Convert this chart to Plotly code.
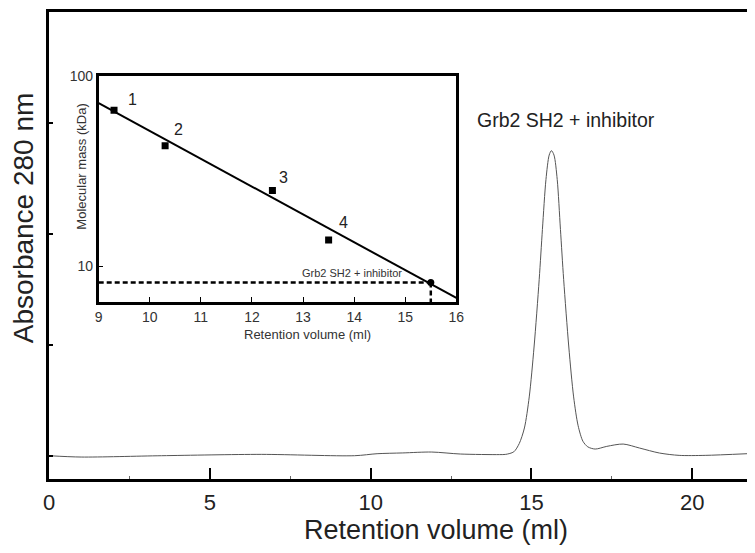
import math
import plotly.graph_objects as go

# chromatogram trace (absorbance at 280 nm, arbitrary units)
volume_ml = [0.0, 1.0, 3.5, 6.6, 9.5, 10.2, 11.0, 11.9, 12.8, 14.0, 14.2, 14.45, 14.62, 14.78,
             14.93, 15.08, 15.24, 15.34, 15.45, 15.55, 15.62, 15.70, 15.80, 15.90, 16.0, 16.16,
             16.31, 16.45, 16.6, 16.75, 16.98, 17.34, 17.85, 18.36, 18.98, 19.59, 20.4, 21.7]
absorbance = [0.0, -0.012, 0.0, 0.012, 0.0, 0.018, 0.025, 0.033, 0.015, 0.01, 0.012, 0.035, 0.11, 0.25,
              0.53, 0.98, 1.59, 2.04, 2.49, 2.71, 2.75, 2.71, 2.49, 2.04, 1.59, 0.98,
              0.53, 0.27, 0.13, 0.08, 0.06, 0.084, 0.105, 0.069, 0.024, 0.003, 0.003, 0.018]

# calibration standards for the inset
std_labels = ["1", "2", "3", "4"]
std_volume = [9.3, 10.3, 12.4, 13.5]
std_mass = [66, 43, 25, 13.7]

# calibration line end points
fit_volume = [9, 16]
fit_mass = [72, 6.8]

# the complex
sample_label = "Grb2 SH2 + inhibitor"
sample_volume = 15.5
sample_mass = 8.2

FONT = "Liberation Sans, Arial, sans-serif"

fig = go.Figure()

fig.add_trace(go.Scatter(x=volume_ml, y=absorbance, mode="lines",
                         line=dict(color="#555555", width=1, shape="spline", smoothing=0.8),
                         xaxis="x", yaxis="y", hoverinfo="skip"))

# inset: calibration line, dashed guides, standards, sample
fig.add_trace(go.Scatter(x=fit_volume, y=fit_mass, mode="lines",
                         line=dict(color="black", width=2), xaxis="x2", yaxis="y2"))
fig.add_trace(go.Scatter(x=[9, sample_volume], y=[sample_mass, sample_mass], mode="lines",
                         line=dict(color="black", width=2.5, dash="5px,3px"), xaxis="x2", yaxis="y2"))
fig.add_trace(go.Scatter(x=[sample_volume, sample_volume], y=[sample_mass, 6.4], mode="lines",
                         line=dict(color="black", width=2.5, dash="5px,3px"), xaxis="x2", yaxis="y2"))
fig.add_trace(go.Scatter(x=std_volume, y=std_mass, mode="markers",
                         marker=dict(symbol="square", size=7, color="black"),
                         xaxis="x2", yaxis="y2"))
fig.add_trace(go.Scatter(x=[sample_volume], y=[sample_mass], mode="markers",
                         marker=dict(symbol="circle", size=7, color="black"),
                         xaxis="x2", yaxis="y2"))

# labels next to the standards (annotations on a log axis take log10 values)
offsets = [(18, 11), (13, 16), (11, 13), (15, 18)]
for lab, vx, my, (dx, dy) in zip(std_labels, std_volume, std_mass, offsets):
    fig.add_annotation(x=vx, y=math.log10(my), xref="x2", yref="y2", text=lab, showarrow=False,
                       xshift=dx, yshift=dy, font=dict(size=16, color="#222", family=FONT))

fig.add_annotation(x=13.96, y=math.log10(sample_mass), xref="x2", yref="y2", text=sample_label,
                   showarrow=False, yshift=9, font=dict(size=11, color="#333", family=FONT))


def paper_text(x, y, text, size, color="#222", angle=0):
    fig.add_annotation(x=x, y=y, xref="paper", yref="paper", text=text, textangle=angle,
                       xanchor="center", yanchor="middle", showarrow=False,
                       font=dict(size=size, color=color, family=FONT))


paper_text(0.741, 0.769, sample_label, 19.5)

# axis titles
paper_text(-0.0354, 0.559, "Absorbance 280 nm", 28, angle=-90)
paper_text(0.555, -0.109, "Retention volume (ml)", 27)
paper_text(0.371, 0.310, "Retention volume (ml)", 13, color="#333")
paper_text(0.0453, 0.668, "Molecular mass (kDa)", 13, color="#333", angle=-90)

fig.update_layout(
    width=755, height=553,
    margin=dict(l=49, r=0, t=12, b=74),
    paper_bgcolor="white", plot_bgcolor="white",
    showlegend=False,
    font=dict(family=FONT, color="#222"),
    xaxis=dict(range=[0, 21.7], showline=True, linecolor="black", linewidth=3, mirror=True,
               ticks="inside", ticklen=11, tickwidth=2, tickcolor="black", dtick=5, tick0=0,
               minor=dict(ticks="inside", ticklen=3, tickwidth=1, dtick=2.5, tickcolor="#666"),
               showgrid=False, zeroline=False, tickfont=dict(size=22, family=FONT),
               ticklabelstandoff=2),
    yaxis=dict(range=[-0.21, 4.0], showline=True, linecolor="black", linewidth=3,
               ticks="inside", ticklen=4, tickwidth=1.5, tickcolor="black", dtick=1, tick0=0,
               showticklabels=False, showgrid=False, zeroline=False),
    xaxis2=dict(domain=[0.0712, 0.5836], anchor="y2", range=[9, 16], showline=True,
                linecolor="black", linewidth=2.5, mirror=True, ticks="inside", ticklen=5,
                tickwidth=1, tickcolor="black", dtick=1, showgrid=False, zeroline=False,
                tickfont=dict(size=14, family=FONT, color="#333")),
    yaxis2=dict(domain=[0.379, 0.863], anchor="x2", type="log", range=[0.811, 2.0],
                showline=True, linecolor="black", linewidth=2.5, mirror=True,
                ticks="inside", ticklen=5, tickwidth=1, tickcolor="black",
                tickvals=[10, 100], ticktext=["10", "100"], showgrid=False, zeroline=False,
                tickfont=dict(size=14, family=FONT, color="#333")),
)

# drop the default 8px page margin (and scrollbars) so the figure fills the window exactly
fig.write_html("out.html", config={"displayModeBar": False},
               post_script="document.body.style.margin = '0'; "
                           "document.documentElement.style.overflow = 'hidden';")
